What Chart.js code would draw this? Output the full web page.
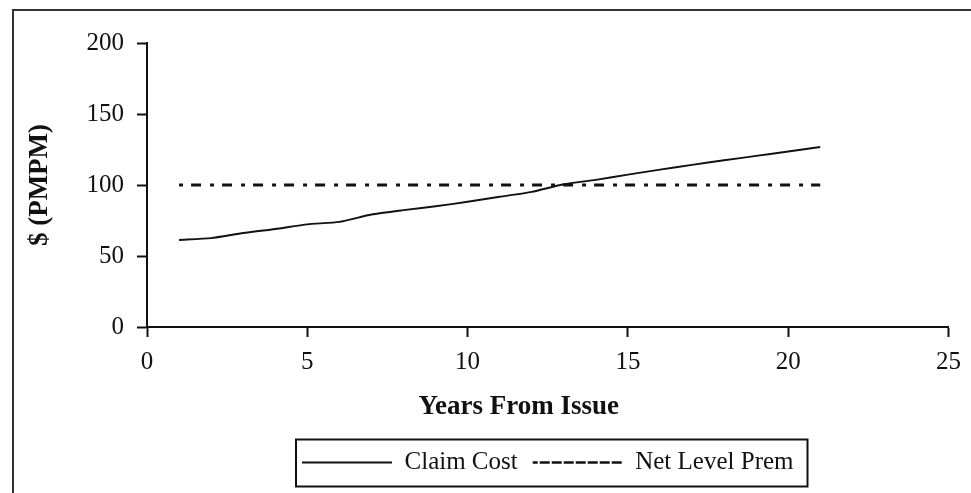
<!DOCTYPE html>
<html>
<head>
<meta charset="utf-8">
<script src="https://cdn.jsdelivr.net/npm/chart.js@4.4.1/dist/chart.umd.min.js"></script>
<style>
  body { margin: 0; background: #fff; }
  #wrap { position: relative; width: 971px; height: 493px; overflow: hidden; background: #fff; }
  #frame { position: absolute; left: 12px; top: 9px; width: 1000px; height: 1000px;
           border-left: 2px solid #333; border-top: 2px solid #333; }
  #chart1 { position: absolute; left: 0; top: 0; }
</style>
</head>
<body>
<div id="wrap">
  <div id="frame"></div>
  <canvas id="chart1" width="971" height="493"></canvas>
</div>
<script>
// data
const years = [1, 2, 3, 4, 5, 6, 7, 8, 9, 10, 11, 12, 13, 14, 15, 16, 17, 18, 19, 20, 21];
const claimCost = [61.3, 62.6, 66.2, 69, 72.3, 74, 79.2, 82.3, 85, 88.2, 91.7, 95.2, 100.5, 103.6, 107.3, 110.8, 114.2, 117.4, 120.5, 123.6, 126.8];
const netLevelPrem = [100, 100, 100, 100, 100, 100, 100, 100, 100, 100, 100, 100, 100, 100, 100, 100, 100, 100, 100, 100, 100];
const xTicks = [0, 5, 10, 15, 20, 25];
const yTicks = [0, 50, 100, 150, 200];

const serif = '"Liberation Serif", "Times New Roman", serif';
const ink = '#111';

// box around the legend + the x axis title
const extras = {
    id: 'extras',
    afterDraw(chart) {
        const c = chart.ctx;
        const boxes = chart.legend.legendHitBoxes;
        if (boxes && boxes.length) {
            const first = boxes[0], last = boxes[boxes.length - 1];
            c.save();
            c.strokeStyle = ink;
            c.lineWidth = 2;
            c.strokeRect(first.left - 6, first.top - 10.5, last.left + last.width + 14 - (first.left - 6), first.height + 22);
            c.restore();
        }
        const xs = chart.scales.x;
        c.save();
        c.font = 'bold 27px ' + serif;
        c.fillStyle = ink;
        c.textAlign = 'center';
        c.textBaseline = 'middle';
        c.fillText('Years From Issue', (xs.left + xs.right) / 2 - 29, xs.top + 80);
        c.restore();
    }
};

const ctx = document.getElementById('chart1').getContext('2d');
const chart = new Chart(ctx, {
    type: 'line',
    data: {
        datasets: [{
            label: 'Claim Cost',
            data: years.map((x, i) => ({x: x, y: claimCost[i]})),
            borderColor: ink,
            backgroundColor: 'rgba(0,0,0,0)',
            borderWidth: 1.9,
            pointRadius: 0,
            tension: 0.2
        }, {
            label: 'Net Level Prem',
            data: years.map((x, i) => ({x: x, y: netLevelPrem[i]})),
            borderColor: ink,
            backgroundColor: 'rgba(0,0,0,0)',
            borderWidth: 3,
            borderDash: [4, 8, 10, 9],
            pointRadius: 0
        }]
    },
    options: {
        responsive: false,
        animation: false,
        layout: { padding: { left: 15, top: 43, right: 20, bottom: 8 } },
        plugins: {
            tooltip: { enabled: false },
            legend: {
                position: 'bottom',
                fullSize: false,
                labels: {
                    color: ink,
                    font: { family: serif, size: 25 },
                    boxWidth: 90,
                    boxHeight: 0,
                    padding: 15,
                    generateLabels(chart) {
                        const items = Chart.defaults.plugins.legend.labels.generateLabels(chart);
                        items.forEach(it => { it.fillStyle = 'rgba(0,0,0,0)'; });
                        items[0].lineWidth = 1.8;
                        items[1].lineDash = [5, 7];
                        items[1].lineWidth = 2.6;
                        return items;
                    }
                }
            }
        },
        scales: {
            x: {
                type: 'linear',
                min: 0,
                max: 25,
                afterFit(scale) { scale.height = 108; },
                afterBuildTicks(scale) { scale.ticks = xTicks.map(v => ({value: v})); },
                grid: { drawOnChartArea: false, tickLength: 10, tickColor: ink, tickWidth: 2 },
                border: { color: ink, width: 2 },
                ticks: { color: ink, font: { family: serif, size: 25 }, padding: 10 }
            },
            y: {
                min: 0,
                max: 200,
                afterFit(scale) { scale.width = 132; },
                afterBuildTicks(scale) { scale.ticks = yTicks.map(v => ({value: v})); },
                grid: { drawOnChartArea: false, tickLength: 10, tickColor: ink, tickWidth: 2 },
                border: { color: ink, width: 2 },
                ticks: { color: ink, font: { family: serif, size: 25 }, padding: 13 },
                title: {
                    display: true,
                    text: '$ (PMPM)',
                    color: ink,
                    font: { family: serif, size: 27, weight: 'bold' },
                    padding: { top: 9, bottom: 0 }
                }
            }
        }
    },
    plugins: [extras]
});
</script>
</body>
</html>
